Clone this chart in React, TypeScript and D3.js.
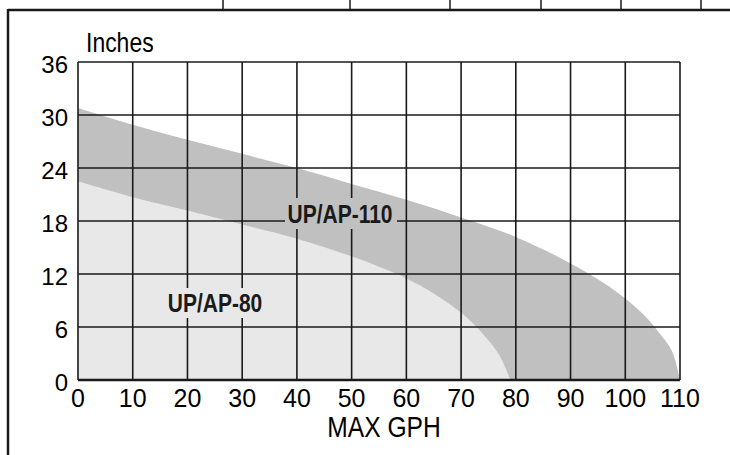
import React from "react";
import * as d3 from "d3";

// GPH tick values and inch ticks
const gphTicks = [0, 10, 20, 30, 40, 50, 60, 70, 80, 90, 100, 110];
const inchTicks = [0, 6, 12, 18, 24, 30, 36];

// curve readings (GPH, inches)
const ap110Gph = [0, 10, 20, 30, 40, 50, 60, 70, 80, 90, 97, 103, 106, 108.5, 110];
const ap110In = [30.8, 28.9, 27.2, 25.6, 24, 22.2, 20.4, 18.4, 16.2, 13.2, 10.6, 7.6, 5.5, 3.3, 0];

const ap80Gph = [0, 10, 20, 30, 40, 50, 60, 65, 70, 74, 77, 79];
const ap80In = [22.5, 20.7, 19.2, 17.6, 16, 14, 11.5, 9.8, 7.6, 5.2, 2.8, 0];

// ticks of the table cut off above the chart
const topTickX = [223, 350, 450, 541, 621, 701];

const W = 730;
const H = 455;
const m = { left: 78, right: 50, top: 62, bottom: 75 };

export default function App() {
  const x = d3.scaleLinear().domain([0, 110]).range([m.left, W - m.right]);
  const y = d3.scaleLinear().domain([0, 36]).range([H - m.bottom, m.top]);

  const area = d3
    .area<[number, number]>()
    .x((d) => x(d[0]))
    .y0(y(0))
    .y1((d) => y(d[1]))
    .curve(d3.curveCatmullRom.alpha(0.5));

  const pts110 = ap110Gph.map((g, i) => [g, ap110In[i]] as [number, number]);
  const pts80 = ap80Gph.map((g, i) => [g, ap80In[i]] as [number, number]);

  const dark = "#c0c0c0";
  const light = "#e8e8e8";
  const ink = "#1a1a1a";

  return (
    <svg
      width={W}
      height={H}
      style={{ position: "absolute", left: 0, top: 0, background: "#fff" }}
      fontFamily="'Liberation Sans', Arial, sans-serif"
    >
      <defs>
        <clipPath id="plot">
          <rect x={x(0)} y={y(36)} width={x(110) - x(0)} height={y(0) - y(36)} />
        </clipPath>
      </defs>

      {/* frame from the page */}
      <line x1={8} x2={W} y1={10} y2={10} stroke={ink} strokeWidth={2.5} />
      <line x1={8} x2={8} y1={9} y2={H} stroke={ink} strokeWidth={2.5} />
      {topTickX.map((tx) => (
        <line key={tx} x1={tx} x2={tx} y1={0} y2={9} stroke={ink} strokeWidth={1.5} />
      ))}

      {/* performance areas */}
      <g clipPath="url(#plot)">
        <path d={area(pts110) ?? ""} fill={dark} />
        <path d={area(pts80) ?? ""} fill={light} />
      </g>

      {/* grid */}
      {gphTicks.map((g) => (
        <line key={"v" + g} x1={x(g)} x2={x(g)} y1={y(36)} y2={y(0)} stroke={ink} strokeWidth={1.6} />
      ))}
      {inchTicks.map((t) => (
        <line key={"h" + t} x1={x(0)} x2={x(110)} y1={y(t)} y2={y(t)} stroke={ink} strokeWidth={t === 0 ? 2.4 : 1.6} />
      ))}

      {/* y labels */}
      {inchTicks.map((t) => (
        <text key={"yl" + t} x={68} y={y(t) + 11} textAnchor="end" fontSize={24} fill="#000">
          {t}
        </text>
      ))}
      {/* x labels */}
      {gphTicks.map((g) => (
        <text key={"xl" + g} x={x(g)} y={y(0) + 27} textAnchor="middle" fontSize={25} fill="#000">
          {g}
        </text>
      ))}

      <text transform="translate(86,52) scale(0.82,1)" fontSize={28} fill="#000">
        Inches
      </text>
      <text transform="translate(384,437) scale(0.82,1)" textAnchor="middle" fontSize={30} fill="#000">
        MAX GPH
      </text>

      {/* series labels with knock-out patches */}
      <rect x={285} y={198} width={112} height={31} rx={4} fill={dark} />
      <text transform="translate(340,223) scale(0.84,1)" textAnchor="middle" fontSize={25} fontWeight="bold" fill={ink}>
        UP/AP-110
      </text>
      <rect x={163} y={288} width={105} height={30} rx={4} fill={light} />
      <text transform="translate(215,312) scale(0.84,1)" textAnchor="middle" fontSize={25} fontWeight="bold" fill={ink}>
        UP/AP-80
      </text>
    </svg>
  );
}
